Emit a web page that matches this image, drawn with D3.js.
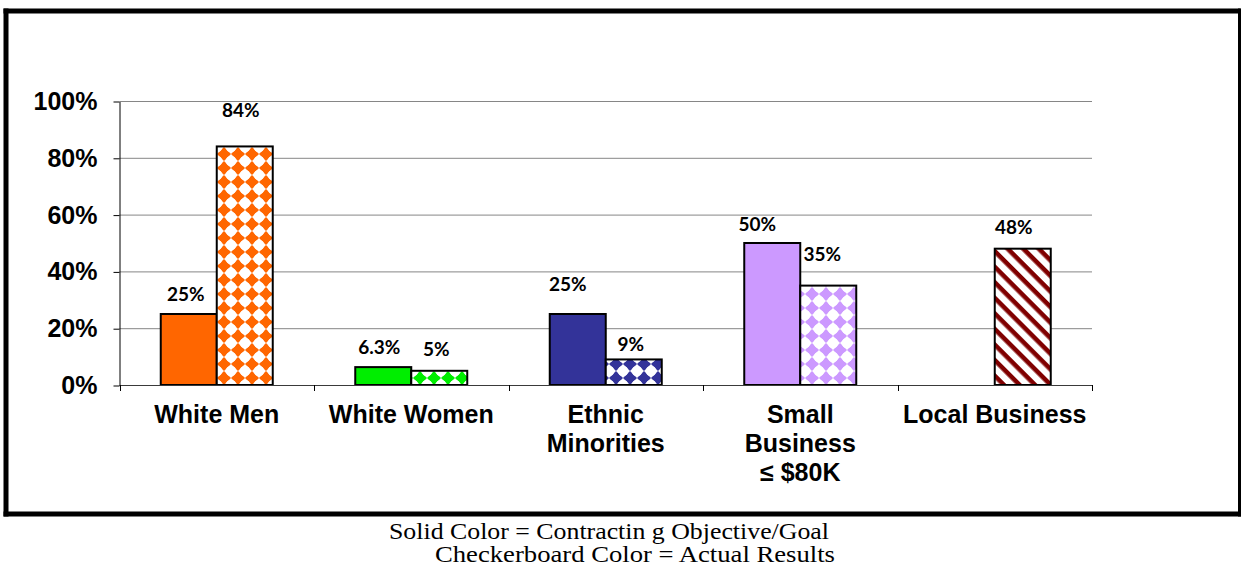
<!DOCTYPE html>
<html><head><meta charset="utf-8">
<script src="https://cdn.jsdelivr.net/npm/d3@7"></script>
<style>body{margin:0;background:#fff}svg{display:block}</style>
</head><body>
<svg id="chart" width="1241" height="573"></svg>
<script>
// ---- data ----
const categories = ["White Men", "White Women", "Ethnic\nMinorities", "Small\nBusiness\n≤ $80K", "Local Business"];
const seriesNames = ["Objective/Goal", "Actual Results"];
const goalValues = [25, 6.3, 25, 50, null];
const actualValues = [84, 5, 9, 35, 48];
const goalLabels = ["25%", "6.3%", "25%", "50%", null];
const actualLabels = ["84%", "5%", "9%", "35%", "48%"];
const yTicks = [0, 20, 40, 60, 80, 100];
const footerLines = ["Solid Color = Contractin g Objective/Goal", "Checkerboard Color = Actual Results"];

// ---- style / layout (not data) ----
const colors = ["#FF6600", "#00EE00", "#333399", "#CC99FF", "#800000"];
const goalNudge = [[-3, 20], [-4, 20], [-10, 30], [-15, 19], [0, 20]];
const actualNudge = [[-4, 36], [-3, 21], [-3, 15], [-6, 31], [-9, 21]];

const svg = d3.select("#chart");
const plot = {left: 119.5, right: 1092, top: 101, bottom: 385};

// patterns
const defs = svg.append("defs");
colors.forEach((c, i) => {
  const p = defs.append("pattern").attr("id", "chk" + i)
    .attr("patternUnits", "userSpaceOnUse").attr("width", 14).attr("height", 14);
  p.append("rect").attr("width", 14).attr("height", 14).attr("fill", "#fff");
  [[0, 0], [14, 0], [0, 14], [14, 14]].forEach(([cx, cy]) => {
    p.append("path").attr("d", `M${cx - 7},${cy}L${cx},${cy - 7}L${cx + 7},${cy}L${cx},${cy + 7}Z`).attr("fill", c);
  });
  p.append("circle").attr("cx", 7).attr("cy", 7).attr("r", 5.3).attr("fill", "#fff");
});
const st = defs.append("pattern").attr("id", "stripe")
  .attr("patternUnits", "userSpaceOnUse").attr("width", 11).attr("height", 11)
  .attr("patternTransform", "rotate(45)");
st.append("rect").attr("width", 11).attr("height", 11).attr("fill", "#fff");
st.append("rect").attr("width", 11).attr("height", 4.6).attr("fill", colors[4]);

// scales
const x0 = d3.scaleBand().domain(categories).range([plot.left, plot.right]).padding(0);
const bw = x0.bandwidth();
const x1 = d3.scaleBand().domain(seriesNames).range([bw / 2 - 56, bw / 2 + 56]).padding(0);
const y = d3.scaleLinear().domain([0, 100]).range([plot.bottom, plot.top]);

// gridlines
svg.append("g").selectAll("line").data(yTicks.filter(t => t > 0)).join("line")
  .attr("x1", plot.left).attr("x2", plot.right)
  .attr("y1", d => y(d) + 0.5).attr("y2", d => y(d) + 0.5)
  .attr("stroke", "#868686").attr("stroke-width", 1);

// bars
const rows = categories.map((c, i) => ({c, i, vals: [goalValues[i], actualValues[i]]}));
const g = svg.append("g");
rows.forEach(r => {
  r.vals.forEach((v, s) => {
    if (v == null) return;
    let fill;
    if (s === 0) fill = colors[r.i];
    else fill = r.i === 4 ? "url(#stripe)" : "url(#chk" + r.i + ")";
    g.append("rect")
      .attr("x", x0(r.c) + x1(seriesNames[s]))
      .attr("y", y(v))
      .attr("width", x1.bandwidth())
      .attr("height", y(0) - y(v))
      .attr("fill", fill)
      .attr("stroke", "#000").attr("stroke-width", 2);
  });
});

// x axis line + boundary ticks
svg.append("line").attr("x1", plot.left).attr("x2", plot.right)
  .attr("y1", plot.bottom + 0.5).attr("y2", plot.bottom + 0.5)
  .attr("stroke", "#3a3a3a").attr("stroke-width", 1);
const edges = categories.map(c => x0(c)).concat([plot.right]);
svg.append("g").selectAll("line").data(edges).join("line")
  .attr("x1", d => Math.round(d) + 0.5).attr("x2", d => Math.round(d) + 0.5)
  .attr("y1", plot.bottom).attr("y2", plot.bottom + 6)
  .attr("stroke", "#000");

// y axis
const yAxis = d3.axisLeft(y).tickValues(yTicks).tickFormat(d => d + "%")
  .tickSize(6).tickSizeOuter(0).tickPadding(16);
const ya = svg.append("g").attr("transform", `translate(${Math.round(plot.left) - 0.5},0.5)`).call(yAxis);
ya.selectAll("path,line").attr("stroke", "#000");
ya.selectAll("text").attr("font-family", "'Liberation Sans', Arial, sans-serif")
  .attr("font-weight", "bold").attr("font-size", 25).attr("fill", "#000");

// data labels
const lab = svg.append("g").attr("font-family", "Lato, 'Liberation Sans', sans-serif")
  .attr("font-weight", "bold").attr("font-size", 19).attr("text-anchor", "middle").attr("fill", "#000");
rows.forEach(r => {
  [goalLabels[r.i], actualLabels[r.i]].forEach((t, s) => {
    if (t == null) return;
    const v = r.vals[s];
    const n = s === 0 ? goalNudge[r.i] : actualNudge[r.i];
    lab.append("text")
      .attr("x", x0(r.c) + x1(seriesNames[s]) + x1.bandwidth() / 2 + n[0])
      .attr("y", y(v) - n[1])
      .attr("dy", "0.35em")
      .text(t);
  });
});

// category labels
const cl = svg.append("g").attr("font-family", "'Liberation Sans', Arial, sans-serif")
  .attr("font-weight", "bold").attr("font-size", 25).attr("text-anchor", "middle").attr("fill", "#000");
categories.forEach(c => {
  const t = cl.append("text").attr("x", x0(c) + bw / 2).attr("y", 423);
  c.split("\n").forEach((line, k) => {
    t.append("tspan").attr("x", x0(c) + bw / 2).attr("dy", k === 0 ? 0 : 29).text(line);
  });
});

// frame
const fr = svg.append("g").attr("stroke", "#000");
fr.append("line").attr("x1", 6).attr("x2", 6).attr("y1", 8.5).attr("y2", 516.5).attr("stroke-width", 5);
fr.append("line").attr("x1", 3.5).attr("x2", 1240.5).attr("y1", 11).attr("y2", 11).attr("stroke-width", 5);
fr.append("line").attr("x1", 3.5).attr("x2", 1241).attr("y1", 514).attr("y2", 514).attr("stroke-width", 5);
fr.append("line").attr("x1", 1239.5).attr("x2", 1239.5).attr("y1", 8.5).attr("y2", 516.5).attr("stroke-width", 3);

// footer
const ft = svg.append("g").attr("font-family", "'Liberation Serif', 'Times New Roman', serif")
  .attr("font-size", 23).attr("fill", "#000");
ft.append("text").attr("x", 389).attr("y", 539).attr("textLength", 440)
  .attr("lengthAdjust", "spacingAndGlyphs").text(footerLines[0]);
ft.append("text").attr("x", 435).attr("y", 562).attr("textLength", 400)
  .attr("lengthAdjust", "spacingAndGlyphs").text(footerLines[1]);
</script>
</body></html>
